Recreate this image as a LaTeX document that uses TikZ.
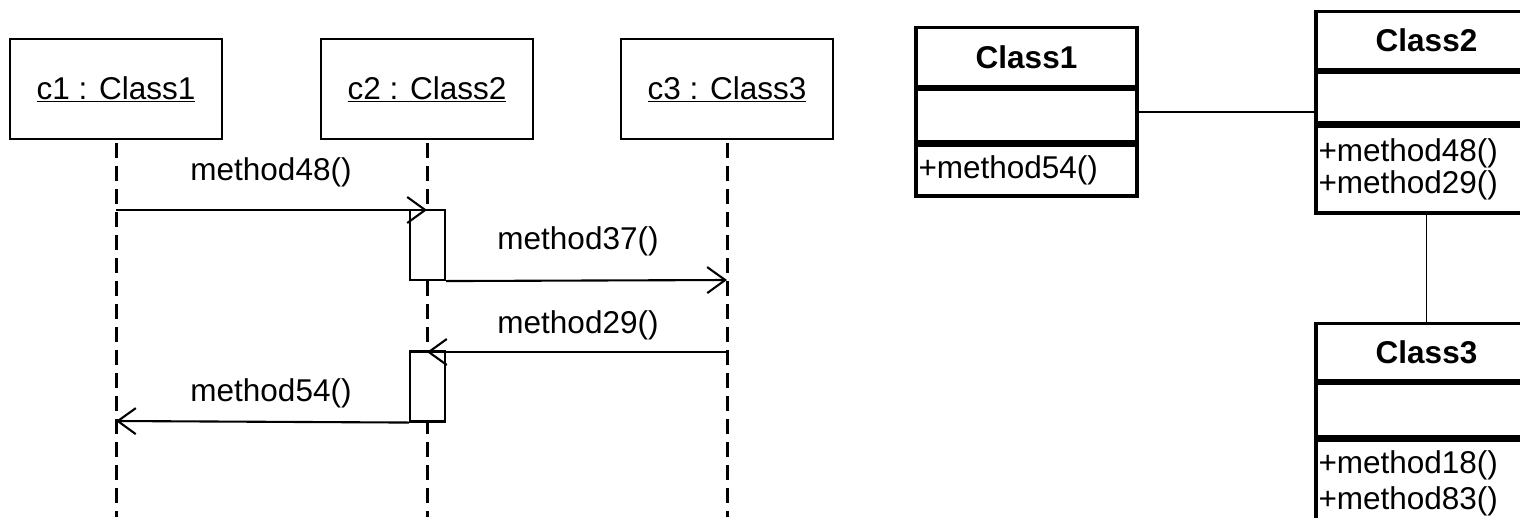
\documentclass[tikz,border=0pt]{standalone}
\usepackage{fontspec}
\setmainfont{Liberation Sans}
\usetikzlibrary{arrows.meta}
\begin{document}
\begin{tikzpicture}[x=1pt,y=-1pt,
  every node/.style={font=\fontsize{31.5}{33}\selectfont, inner sep=0pt},
  head/.style={draw, line width=2pt, minimum width=212pt, minimum height=100pt},
  life/.style={line width=3pt, dash pattern=on 15pt off 8pt, dash phase=20pt},
  msg/.style={line width=2.1pt, -{Straight Barb[length=18pt,width=26pt]}},
  act/.style={draw, line width=2.1pt, fill=white, minimum width=35pt, minimum height=70pt},
  lbl/.style={},
  cls/.style={draw, line width=3.2pt, minimum width=221pt, anchor=north},
  ctitle/.style={cls, font=\fontsize{31.5}{33}\selectfont\bfseries},
  cmeth/.style={cls, align=left, text width=216pt, inner xsep=2.5pt},
  assoc/.style={line width=1.7pt}]
\useasboundingbox (0,0) rectangle (1520,517);

% ---------- sequence diagram ----------
\node[head] (h1) at (116,89) {\underline{c1 : Class1}};
\node[head] (h2) at (427,89) {\underline{c2 : Class2}};
\node[head] (h3) at (727,89) {\underline{c3 : Class3}};

\coordinate (b1) at (116,517);
\coordinate (b2) at (427,517);
\coordinate (b3) at (727,517);
\draw[life] (h1) -- (b1);
\draw[life] (h2) -- (b2);
\draw[life] (h3) -- (b3);

\node[act] (a1) at (427.5,245) {};
\node[act] (a2) at (427.5,386.5) {};

\coordinate (p1) at (116,210);
\coordinate (q1) at (427,210);
\coordinate (q2) at (727,280);
\coordinate (p3) at (727,352);
\coordinate (q3) at (427,352);
\coordinate (q4) at (116,421);

\draw[msg] (p1) -- (q1);
\draw[msg] (a1.south east) -- (q2);
\draw[msg] (p3) -- (q3);
\draw[msg] (a2.south west) -- (q4);

\node[lbl] (l1) at (271,172) {method48()};
\node[lbl] (l2) at (578,241) {method37()};
\node[lbl] (l3) at (578,325) {method29()};
\node[lbl] (l4) at (271,393) {method54()};

% ---------- class diagram ----------
\node[ctitle, minimum height=59pt] (k1t) at (1026.5,26) {Class1};
\node[cls, minimum height=52pt] (k1a) at (k1t.south) {};
\node[cmeth, minimum height=51pt] (k1m) at (k1a.south) {+method54()};

\node[ctitle, minimum height=58pt] (k2t) at (1426.5,10) {Class2};
\node[cls, minimum height=50pt] (k2a) at (k2t.south) {};
\node[cmeth, minimum height=87pt, font=\fontsize{31.5}{32}\selectfont] (k2m) at (k2a.south) {+method48()\\+method29()};

\node[ctitle, minimum height=57pt] (k3t) at (1426.5,322) {Class3};
\node[cls, minimum height=53pt] (k3a) at (k3t.south) {};
\node[cmeth, minimum height=87pt, font=\fontsize{31.5}{36}\selectfont] (k3m) at (k3a.south) {+method18()\\+method83()};

\coordinate (s1) at ([yshift=4pt]k1a.east);
\draw[assoc] (s1) -- (s1 -| k2a.west);
\draw[assoc] (k2m.south) -- (k3t.north);
\end{tikzpicture}
\end{document}
